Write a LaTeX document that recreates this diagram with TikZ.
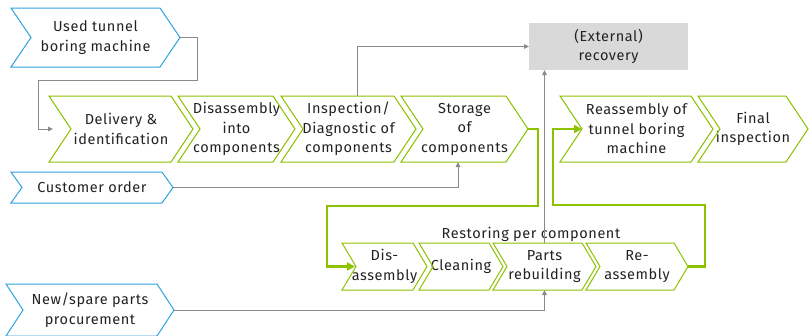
\documentclass[tikz,border=0pt]{standalone}
\usepackage{fontspec}
\setmainfont{Fira Sans}[LetterSpace=4]
\usetikzlibrary{arrows.meta}
\definecolor{cgreen}{HTML}{8CC200}
\definecolor{cblue}{HTML}{2EA2DE}
\definecolor{cgray}{HTML}{8A8A8A}
\definecolor{cbox}{HTML}{D9D9D9}
\definecolor{ctext}{HTML}{222222}
\newcommand\chev[3]{\draw[#3] (#1.north west) -- ([xshift=-#2]#1.north east) -- (#1.east) -- ([xshift=-#2]#1.south east) -- (#1.south west) -- ([xshift=#2]#1.west) -- cycle;}
\begin{document}
\begin{tikzpicture}[x=1pt,y=-1pt,
  every node/.style={inner sep=0pt,outer sep=0pt,align=center,text=ctext,font=\fontsize{14.5}{19.5}\selectfont},
  bx/.style={minimum width=#1},
  gchev/.style={draw=cgreen,line width=1pt,line join=miter},
  bchev/.style={draw=cblue,line width=1pt,line join=miter},
  gconn/.style={draw=cgray,line width=0.9pt,-{Triangle[length=5pt,width=4.5pt]}},
  gthick/.style={draw=cgreen,line width=2.8pt,-{Triangle[length=8pt,width=8pt]}}]
\useasboundingbox (0,0) rectangle (809,335);
% top row
\node[bx=169,minimum height=59] (used) at (95.5,37.5) {Used tunnel\\boring machine};
\node[bx=144,minimum height=66] (del) at (121,129) {Delivery \&\\identification};
\node[bx=117,minimum height=66] (dis) at (236.5,129) {Disassembly\\into\\components};
\node[bx=135,minimum height=66] (insp) at (348.5,129) {Inspection/\\Diagnostic of\\components};
\node[bx=127,minimum height=66] (stor) at (464.5,129) {Storage\\of\\components};
\node[bx=153,minimum height=66] (reas) at (636.5,129) {Reassembly of\\tunnel boring\\machine};
\node[bx=110,minimum height=66] (fin) at (753,129) {Final\\inspection};
\node[bx=162,minimum height=31] (cust) at (92,187.5) {Customer order};
\node[bx=168,minimum height=52] (newp) at (90,310) {New/spare parts\\procurement};
\node[fill=cbox,minimum width=159,minimum height=47] (ext) at (608.5,46.5) {(External)\\recovery};
% bottom row
\node[bx=85,minimum height=47] (bdis) at (384.5,266.5) {Dis-\\assembly};
\node[bx=84,minimum height=47] (clean) at (461,266.5) {Cleaning};
\node[bx=103,minimum height=47] (parts) at (544.5,266.5) {Parts\\rebuilding};
\node[bx=102,minimum height=47] (reab) at (637,266.5) {Re-\\assembly};
\node (rest) at (531,234) {Restoring per component};
% chevrons
\chev{used}{20}{bchev}
\chev{cust}{11}{bchev}
\chev{newp}{17}{bchev}
\chev{del}{22}{gchev}
\chev{dis}{22}{gchev}
\chev{insp}{22}{gchev}
\chev{stor}{22}{gchev}
\chev{reas}{22}{gchev}
\chev{fin}{22}{gchev}
\chev{bdis}{14}{gchev}
\chev{clean}{14}{gchev}
\chev{parts}{14}{gchev}
\chev{reab}{14}{gchev}
% connectors
\draw[gconn] (used.east) -- ++(17,0) -- ++(0,42.5) -| ([xshift=-11]del.west) -- ([xshift=4]del.west);
\draw[gconn] ([xshift=8.5]insp.north) |- (ext.west);
\draw[gconn] (cust.east) -| ([xshift=-6.5]stor.south);
\draw[gconn] (newp.east) -| (parts.south);
\draw[gconn] (parts.north) -- (parts.north |- ext.south);
\draw[gthick] (stor.east) -- ++(10,0) -- ++(0,77) -| ([xshift=-15]bdis.west) -- ([xshift=13]bdis.west);
\draw[gthick] (reab.east) -- ++(17,0) -- ++(0,-61.5) -| ([xshift=-7]reas.west) -- ([xshift=22]reas.west);
\end{tikzpicture}
\end{document}
